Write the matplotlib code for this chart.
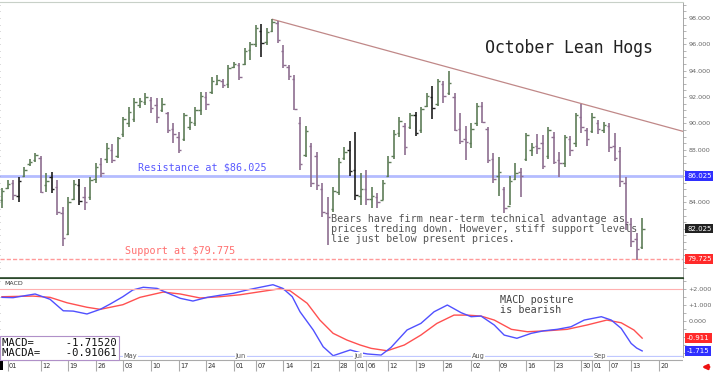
import numpy as np
import matplotlib
matplotlib.use("Agg")
import matplotlib.pyplot as plt
from matplotlib import transforms

# daily bars, October Lean Hogs
highs = [85.1, 85.7, 85.7, 85.9, 86.7, 87.3, 87.75, 87.5, 86.2, 86.3,
         85.7, 83.65, 84.4, 85.7, 85.8, 85.2, 85.9, 87.0, 87.4, 88.5,
         88.4, 89.0, 90.5, 91.25, 91.9, 91.9, 92.3, 92.0, 91.9, 91.9,
         90.9, 90.0, 89.35, 90.8, 90.5, 91.25, 92.4, 92.4, 93.5, 93.7,
         93.4, 94.4, 94.65, 94.6, 95.7, 96.2, 97.5, 97.55, 97.2, 97.9,
         97.8, 95.95, 94.4, 93.7, 90.5, 89.8, 88.5, 87.8, 85.5, 84.4,
         85.2, 87.4, 88.2, 88.7, 89.35, 86.2, 86.5, 85.2, 84.7, 85.7,
         87.5, 89.5, 90.5, 90.0, 90.8, 90.9, 91.25, 92.3, 92.8, 93.35,
         93.2, 94.0, 92.3, 90.8, 89.8, 90.0, 91.55, 91.6, 89.7, 87.75,
         87.45, 85.2, 86.0, 87.0, 86.6, 89.3, 88.5, 89.2, 89.1, 89.7,
         89.35, 87.8, 89.1, 89.05, 90.8, 91.5, 89.65, 90.8, 90.25, 90.1,
         90.0, 89.3, 88.2, 85.9, 82.8, 81.7, 82.8]
lows = [83.6, 85.0, 84.2, 84.0, 85.9, 86.8, 87.1, 84.7, 84.8, 84.7,
        83.05, 80.7, 81.5, 84.2, 83.8, 83.4, 84.2, 85.5, 85.9, 87.0,
        87.0, 87.4, 89.0, 89.7, 90.1, 91.2, 91.4, 90.8, 90.0, 90.9,
        89.3, 88.5, 87.75, 88.7, 89.5, 89.8, 90.6, 91.0, 92.2, 92.9,
        92.7, 92.7, 94.2, 93.3, 94.4, 94.8, 95.8, 95.05, 95.95, 96.9,
        96.1, 94.2, 93.3, 91.0, 86.5, 87.45, 85.2, 84.95, 82.9, 80.8,
        83.3, 84.6, 87.2, 86.0, 84.2, 83.8, 83.8, 83.6, 83.6, 84.2,
        85.9, 87.3, 89.0, 87.6, 89.6, 89.05, 89.3, 91.25, 90.3, 91.3,
        91.55, 92.15, 89.4, 88.4, 87.2, 88.1, 89.8, 90.0, 87.0, 85.5,
        84.5, 83.2, 83.8, 85.7, 84.4, 87.15, 87.5, 87.7, 86.55, 87.3,
        86.9, 85.9, 86.7, 87.5, 88.2, 89.3, 88.3, 89.3, 89.2, 89.3,
        87.8, 87.15, 85.2, 81.9, 80.6, 79.6, 80.5]
opens = [84.2, 85.1, 85.5, 84.5, 86.0, 86.9, 87.2, 87.4, 85.3, 85.9,
         85.2, 83.2, 81.6, 84.3, 85.3, 84.4, 84.4, 85.8, 86.9, 87.3,
         88.0, 87.5, 89.2, 90.0, 90.3, 91.4, 91.6, 91.8, 91.4, 91.0,
         90.8, 89.6, 89.0, 88.8, 89.7, 90.0, 91.0, 92.0, 92.4, 93.0,
         93.2, 93.0, 94.3, 94.4, 94.5, 95.6, 96.0, 97.0, 96.2, 97.0,
         97.6, 95.5, 94.3, 93.4, 90.0, 87.6, 88.3, 87.5, 85.0, 83.2,
         83.5, 84.8, 87.4, 88.0, 86.5, 84.5, 85.0, 84.3, 84.4, 84.2,
         86.0, 87.5, 89.3, 89.8, 89.7, 90.6, 89.5, 91.3, 92.0, 91.5,
         93.0, 92.3, 92.0, 89.6, 88.8, 88.5, 90.0, 91.3, 89.6, 87.3,
         86.0, 85.0, 83.7, 85.8, 86.3, 87.3, 88.0, 88.3, 88.5, 87.5,
         89.0, 87.2, 87.0, 88.8, 88.5, 90.5, 89.5, 89.4, 90.0, 89.5,
         89.8, 88.3, 87.9, 85.5, 82.4, 81.2, 80.6]
closes = [84.9, 85.4, 84.6, 85.6, 86.5, 87.1, 87.6, 84.8, 85.6, 85.0,
          83.3, 81.3, 84.0, 85.4, 84.1, 84.0, 85.7, 86.7, 86.2, 88.1,
          87.2, 88.9, 90.3, 90.9, 91.6, 91.7, 92.0, 91.2, 90.5, 91.5,
          89.5, 89.2, 88.0, 90.6, 90.1, 91.0, 92.1, 91.5, 93.2, 93.3,
          92.9, 94.2, 94.5, 93.5, 95.5, 96.0, 97.2, 96.1, 96.9, 97.7,
          96.3, 94.4, 93.6, 91.1, 86.9, 89.4, 85.5, 85.3, 83.3, 82.9,
          84.9, 87.1, 87.8, 86.4, 84.6, 85.0, 84.3, 84.5, 84.0, 85.5,
          87.1, 89.2, 90.2, 88.2, 90.6, 89.3, 91.1, 92.1, 91.2, 93.2,
          92.1, 93.1, 89.5, 88.7, 88.6, 89.6, 91.3, 90.1, 87.2, 85.8,
          86.3, 83.6, 85.6, 86.2, 86.0, 89.1, 88.2, 88.1, 86.8, 89.5,
          87.1, 87.0, 89.0, 88.0, 90.6, 89.7, 88.8, 90.5, 89.6, 89.9,
          88.2, 87.4, 85.6, 82.5, 81.1, 80.5, 82.025]

# MACD (blue) and its average (red)
macd_x = [0, 2.0, 6.0, 8.7, 11.1, 12.9, 15.4, 17.8, 19.6, 21.9, 23.7, 25.6,
          28.1, 29.9, 32.3, 34.6, 37.2, 39.5, 41.9, 44.4, 46.8, 49.1, 50.9,
          52.6, 54.0, 56.4, 58.2, 60.0, 63.1, 64.9, 66.2, 68.7, 70.5, 73.4,
          75.9, 78.3, 80.7, 83.2, 85.0, 86.8, 89.2, 91.0, 93.3, 95.9, 98.2,
          100.6, 103.1, 105.5, 108.6, 110.4, 112.2, 114.0, 115.0, 116.0]
macd_y = [1.45, 1.43, 1.66, 1.33, 0.61, 0.59, 0.41, 0.70, 1.03, 1.49, 1.91,
          2.08, 2.01, 1.74, 1.39, 1.22, 1.45, 1.58, 1.70, 1.91, 2.08, 2.24,
          2.01, 1.49, 0.55, -0.59, -1.64, -2.20, -1.84, -2.01, -2.09, -2.16,
          -1.68, -0.59, -0.18, 0.55, 0.97, 0.49, 0.24, 0.28, -0.28, -0.91,
          -1.11, -0.80, -0.64, -0.55, -0.39, 0.03, 0.24, 0.03, -0.49, -1.43,
          -1.72, -1.90]
signal_x = [0, 5.6, 8.7, 11.8, 15.4, 17.8, 21.9, 25.0, 29.2, 32.3, 35.9,
            39.5, 43.1, 47.3, 50.4, 52.2, 55.3, 57.6, 60.0, 62.5, 64.9,
            66.9, 69.8, 72.9, 75.9, 78.8, 81.9, 84.3, 86.8, 89.2, 92.3,
            95.2, 98.8, 102.4, 106.0, 109.6, 112.2, 114.5, 116.0]
signal_y = [1.49, 1.53, 1.45, 1.11, 0.83, 0.70, 0.99, 1.45, 1.78, 1.66, 1.41,
            1.49, 1.61, 1.83, 1.99, 1.86, 1.08, 0.03, -0.80, -1.22, -1.53,
            -1.74, -1.89, -1.53, -0.91, -0.18, 0.34, 0.34, 0.28, 0.03, -0.55,
            -0.70, -0.64, -0.55, -0.28, 0.03, -0.14, -0.59, -1.10]
macd_last = -1.71520
signal_last = -0.91061

date_pos = [1, 7, 12, 17, 22, 27, 32, 37, 42, 46, 51, 56, 61, 64, 66, 70,
            75, 80, 85, 90, 95, 100, 105, 107, 110, 114, 119]
date_labels = ['01', '12', '19', '26', '03', '10', '17', '24', '01', '07',
               '14', '21', '28', '01', '06', '12', '19', '26', '02', '09',
               '16', '23', '30', '01', '07', '13', '20']
month_pos = [23.2, 43.3, 64.5, 86.3, 108.4]
month_labels = ['May', 'Jun', 'Jul', 'Aug', 'Sep']

resistance = 86.025
support = 79.725
last_price = 82.025
trend_idx = [49, 105]
price_ticks = [84, 88, 90, 92, 94, 96, 98]
macd_ticks = [2, 1, 0]

W, H = 714, 373
fig = plt.figure(figsize=(W / 100, H / 100), dpi=100)
mono = 'DejaVu Sans Mono'
xl = (-0.36, 123.4)

def box(y0, y1, x1=683):
    return [0, (H - y1) / H, x1 / W, (y1 - y0) / H]

ax = fig.add_axes(box(2, 278))
ax2 = fig.add_axes(box(278, 357), sharex=ax)
ax3 = fig.add_axes(box(357, 372), sharex=ax)

# ---- price bars
x = np.arange(len(highs))
cols = []
for i in range(len(x)):
    if i > 0 and highs[i] > highs[i - 1] and lows[i] < lows[i - 1]:
        cols.append('#1e1e1e')
    elif closes[i] >= opens[i]:
        cols.append('#5e7d58')
    else:
        cols.append('#8e6e90')
ax.vlines(x, lows, highs, colors=cols, lw=1.2, zorder=3)
ax.hlines(opens, x - 0.45, x, colors=cols, lw=1.0, zorder=3)
ax.hlines(closes, x, x + 0.45, colors=cols, lw=1.0, zorder=3)

ax.axhline(resistance, color='#b4bcff', lw=2.0, zorder=1)
ax.axhline(support, color='#ff9a9a', lw=1.0, ls=(0, (3, 1.5)), zorder=1)

slope = (highs[trend_idx[1]] - highs[trend_idx[0]]) / (trend_idx[1] - trend_idx[0])
tx = np.array([trend_idx[0], xl[1]])
ax.plot(tx, highs[trend_idx[0]] + slope * (tx - trend_idx[0]), color='#c08888', lw=0.9, zorder=2)

ax.set_xlim(*xl)
ax.set_ylim(78.27, 99.21)
ax.yaxis.tick_right()
ax.set_yticks(price_ticks)
ax.set_yticklabels(['%.3f' % v for v in price_ticks])
ax.set_yticks(np.arange(79, 99.1, 0.5), minor=True)
ax.tick_params(axis='y', which='both', right=True, left=True, direction='out', labelsize=4.6,
               labelcolor='#666666', color='#999999', length=2, width=0.5, pad=2)
ax.tick_params(axis='x', bottom=False, labelbottom=False)
ax.spines['left'].set_visible(False)
ax.spines['top'].set_color('#c8d0c8')
ax.spines['right'].set_color('#999999')
ax.spines['right'].set_linewidth(0.6)
ax.spines['bottom'].set_color('#2c4a2c')
ax.spines['bottom'].set_linewidth(1.2)

ax.text(87.5, 95.7, 'October Lean Hogs', family=mono, fontsize=11.9, color='#222222', va='center')
ax.text(24.7, 86.3, 'Resistance at $86.025', family=mono, fontsize=7.25, color='#5a5aff', va='bottom')
ax.text(22.3, 79.95, 'Support at $79.775', family=mono, fontsize=7.25, color='#ff7070', va='bottom')
ax.text(59.6, 83.1, 'Bears have firm near-term technical advantage as\n'
        'prices treding down. However, stiff support levels\n'
        'lie just below present prices.', family=mono, fontsize=7.25,
        color='#555555', va='top', linespacing=1.0)

rt = transforms.blended_transform_factory(ax.transAxes, ax.transData)
for val, fc in [(resistance, '#2f2fff'), (last_price, '#222222'), (support, '#ff2a2a')]:
    ax.text(1.006, val, '%.3f' % val, transform=rt, fontsize=5, color='white', va='center',
            ha='left', clip_on=False, zorder=6,
            bbox=dict(boxstyle='square,pad=0.25', fc=fc, ec='none'))

# ---- MACD panel
ax2.plot(signal_x, signal_y, color='#ff5050', lw=1.0)
ax2.plot(macd_x, macd_y, color='#5050ff', lw=1.0)
ax2.axhline(2, color='#ffb0b0', lw=0.8)
ax2.axhline(-2.22, color='#c0c8ff', lw=0.9)
ax2.set_ylim(-2.28, 2.66)
ax2.yaxis.tick_right()
ax2.set_yticks(macd_ticks)
ax2.set_yticklabels(['+%.3f' % v if v > 0 else '%.3f' % v for v in macd_ticks])
ax2.set_yticks(np.arange(-2, 2.6, 0.5), minor=True)
ax2.tick_params(axis='y', which='both', right=True, left=True, direction='out', labelsize=4.6,
                labelcolor='#666666', color='#999999', length=2, width=0.5, pad=2)
ax2.tick_params(axis='x', bottom=False, labelbottom=False)
ax2.spines['left'].set_visible(False)
ax2.spines['bottom'].set_visible(False)
ax2.spines['top'].set_color('#2c4a2c')
ax2.spines['right'].set_color('#999999')
ax2.spines['right'].set_linewidth(0.6)
for p, m in zip(month_pos, month_labels):
    ax2.text(p, -2.22, m, fontsize=4.8, color='#555555', ha='center', va='center',
             bbox=dict(boxstyle='square,pad=0.1', fc='white', ec='none'))
ax2.text(0.4, 2.3, 'MACD', fontsize=4.5, color='#333333', va='center')
ax2.text(90.3, 1.6, 'MACD posture\nis bearish', family=mono, fontsize=7.25, color='#444444',
         va='top', linespacing=1.05)
rt2 = transforms.blended_transform_factory(ax2.transAxes, ax2.transData)
for yv, val, fc in [(signal_y[-1], signal_last, '#ff2a2a'), (macd_y[-1], macd_last, '#2f2fff')]:
    ax2.text(1.006, yv, '%.3f' % val, transform=rt2, fontsize=5, color='white', va='center',
             ha='left', clip_on=False, zorder=6,
             bbox=dict(boxstyle='square,pad=0.25', fc=fc, ec='none'))
fig.text(2 / W, 1 - 348 / H, 'MACD=     %.5f\nMACDA=    %.5f' % (macd_last, signal_last),
         family=mono, fontsize=7.6, color='#111111', va='center', linespacing=0.95,
         bbox=dict(boxstyle='square,pad=0.2', fc='white', ec='#b090c8', lw=0.8), zorder=10)

# ---- date strip
ax3.set_ylim(0, 1)
ax3.axhline(0.8, color='#aaaaaa', lw=0.8)
ax3.vlines(date_pos, 0.05, 0.8, colors='#aaaaaa', lw=0.8)
for p, lab in zip(date_pos, date_labels):
    ax3.text(p + 0.25, 0.4, lab, fontsize=4.8, color='#333333', va='center', ha='left')
ax3.axis('off')
fig.patches.append(plt.Rectangle((0, 1 - 370 / H), 3 / W, 9 / H, transform=fig.transFigure,
                                 fc='black', ec='none'))
fig.add_artist(matplotlib.patches.FancyArrowPatch((712 / W, 1 - 367 / H), (699 / W, 1 - 367 / H),
                                                  transform=fig.transFigure, arrowstyle='-|>',
                                                  mutation_scale=7, color='#ee1111', lw=1.8))

fig.savefig('out.png', dpi=100)
